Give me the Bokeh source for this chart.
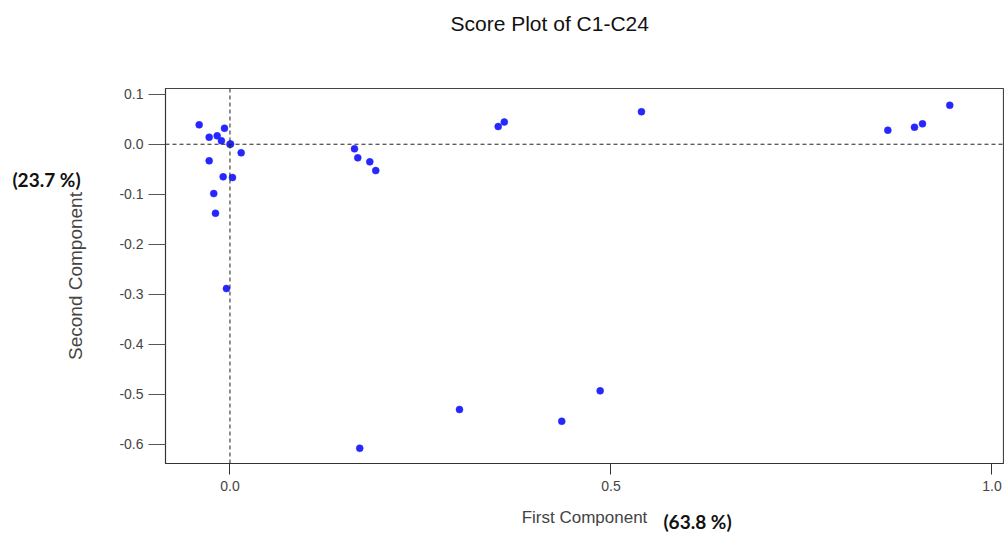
from bokeh.plotting import figure
from bokeh.models import Span, Label, FixedTicker, NumeralTickFormatter, ColumnDataSource, Title
from bokeh.embed import file_html
from bokeh.resources import INLINE

# Scores (first and second principal component)
pc1 = [-0.0404, -0.0273, -0.0168, -0.0072, -0.0112, 0.0, 0.0008, 0.0147,
       -0.0273, -0.0089, 0.0033, -0.0213, -0.0190, -0.0046,
       0.1634, 0.1677, 0.1835, 0.1913,
       0.3520, 0.3600, 0.5400,
       0.8633, 0.8983, 0.9088, 0.9446,
       0.1703, 0.3012, 0.4354, 0.4858]
pc2 = [0.0388, 0.0140, 0.0168, 0.0320, 0.0068, 0.0, 0.0006, -0.0172,
       -0.0332, -0.0651, -0.0665, -0.0985, -0.1379, -0.2884,
       -0.0092, -0.0272, -0.0352, -0.0526,
       0.0354, 0.0445, 0.0650,
       0.0280, 0.0340, 0.0408, 0.0779,
       -0.6075, -0.5301, -0.5536, -0.4928]

x_ticks = [0.0, 0.5, 1.0]
y_ticks = [0.1, 0.0, -0.1, -0.2, -0.3, -0.4, -0.5, -0.6]

title_text = "Score Plot of C1-C24"
x_label = "First Component"
y_label = "Second Component"
x_pct = "(63.8 %)"
y_pct = "(23.7 %)"

FONT = "Liberation Sans"

p = figure(width=1004, height=533, output_backend="svg", toolbar_location=None,
           x_range=(-0.0846, 1.0151), y_range=(-0.638, 0.1114),
           min_border_left=165, min_border_right=1, min_border_top=88, min_border_bottom=70)

p.title = Title(text=title_text, align="left", offset=285, standoff=16,
                text_font=FONT, text_font_size="21px", text_font_style="normal",
                text_color="#111111")

p.background_fill_color = "white"
p.border_fill_color = "white"
p.outline_line_color = "#444444"
p.outline_line_width = 1.2
p.xgrid.visible = False
p.ygrid.visible = False

# reference lines
p.add_layout(Span(location=0, dimension="height", line_color="#222222", line_dash="4 3", line_width=1))
p.add_layout(Span(location=0, dimension="width", line_color="#222222", line_dash="4 3", line_width=1))

src = ColumnDataSource(dict(x=pc1, y=pc2))
p.scatter("x", "y", source=src, size=7, fill_color="#2626ff", line_color="#2626ff", line_width=0.5)

xa = p.xaxis[0]
xa.ticker = FixedTicker(ticks=x_ticks)
xa.formatter = NumeralTickFormatter(format="0.0")
xa.axis_label = x_label
xa.axis_label_text_font = FONT
xa.axis_label_text_font_size = "17px"
xa.axis_label_text_font_style = "normal"
xa.axis_label_standoff = 14
xa.major_label_text_font = FONT
xa.major_label_text_font_size = "14px"
xa.major_label_standoff = 6
xa.major_tick_out = 11
xa.major_tick_in = 0
xa.minor_tick_out = 0
xa.minor_tick_in = 0
xa.axis_line_color = "#333333"
xa.major_tick_line_color = "#333333"

ya = p.yaxis[0]
ya.ticker = FixedTicker(ticks=y_ticks)
ya.formatter = NumeralTickFormatter(format="0.0")
ya.axis_label = y_label
ya.axis_label_text_font = FONT
ya.axis_label_text_font_size = "19px"
ya.axis_label_text_font_style = "normal"
ya.axis_label_standoff = 30
ya.major_label_text_font = FONT
ya.major_label_text_font_size = "14px"
ya.major_label_standoff = 5
ya.major_tick_out = 17
ya.major_tick_in = 0
ya.minor_tick_out = 0
ya.minor_tick_in = 0
ya.axis_line_color = "#333333"
ya.major_tick_line_color = "#555555"

p.add_layout(Label(x=697, y=521, x_units="canvas", y_units="canvas", text=x_pct,
                   text_font="Lato", text_font_style="bold", text_font_size="19px",
                   text_align="center", text_baseline="middle", text_color="#111111"), "above")
p.add_layout(Label(x=46, y=179, x_units="canvas", y_units="canvas", text=y_pct,
                   text_font="Lato", text_font_style="bold", text_font_size="19px",
                   text_align="center", text_baseline="middle", text_color="#111111"), "above")

open("out.html", "w").write(file_html(p, INLINE))
